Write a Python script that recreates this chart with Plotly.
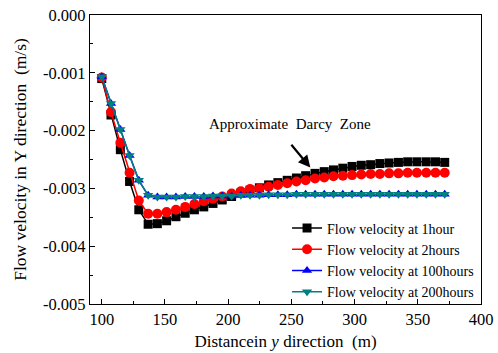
import plotly.graph_objects as go

distance = [100, 107.3, 114.7, 122, 129.3, 136.7, 144, 151.3, 158.7, 166, 173.3, 180.7, 188,
            195.3, 202.7, 210, 217.3, 224.7, 232, 239.3, 246.7, 254, 261.3, 268.7, 276, 283.3,
            290.7, 298, 305.3, 312.7, 320, 327.3, 334.7, 342, 349.3, 356.7, 364, 371.3]

v_1h = [-0.00110, -0.00173, -0.00233, -0.00288, -0.00337, -0.00362, -0.00361, -0.00356, -0.00349,
        -0.00343, -0.00337, -0.00332, -0.00326, -0.00320, -0.00314, -0.00308, -0.00303, -0.00299,
        -0.00294, -0.00290, -0.00286, -0.00282, -0.00278, -0.00274, -0.00271, -0.00268, -0.00265,
        -0.00262, -0.00260, -0.00259, -0.00257, -0.00256, -0.00255, -0.00254, -0.00254, -0.00254,
        -0.00254, -0.00255]

v_2h = [-0.00108, -0.00168, -0.00221, -0.00273, -0.00321, -0.00344, -0.00344, -0.00341, -0.00337,
        -0.00332, -0.00327, -0.00322, -0.00318, -0.00314, -0.00309, -0.00305, -0.00301, -0.00300,
        -0.00297, -0.00294, -0.00291, -0.00288, -0.00286, -0.00283, -0.00281, -0.00279, -0.00278,
        -0.00277, -0.00276, -0.00275, -0.00275, -0.00274, -0.00274, -0.00273, -0.00273, -0.00273,
        -0.00273, -0.00273]

v_100h = [-0.00107, -0.00153, -0.00198, -0.00243, -0.00286, -0.00312, -0.00315, -0.00315, -0.00315,
          -0.00314, -0.00314, -0.00314, -0.00313, -0.00313, -0.00313, -0.00312, -0.00312, -0.00312,
          -0.00311, -0.00311, -0.00311, -0.00310, -0.00310, -0.00310, -0.00310, -0.00310, -0.00310,
          -0.00310, -0.00310, -0.00310, -0.00310, -0.00310, -0.00310, -0.00310, -0.00310, -0.00310,
          -0.00310, -0.00310]

v_200h = [-0.00107, -0.00153, -0.00198, -0.00243, -0.00286, -0.00312, -0.00315, -0.00315, -0.00315,
          -0.00314, -0.00314, -0.00314, -0.00313, -0.00313, -0.00313, -0.00312, -0.00312, -0.00312,
          -0.00311, -0.00311, -0.00311, -0.00310, -0.00310, -0.00310, -0.00310, -0.00310, -0.00310,
          -0.00310, -0.00310, -0.00310, -0.00310, -0.00310, -0.00310, -0.00310, -0.00310, -0.00310,
          -0.00310, -0.00310]

series_names = ["Flow velocity at 1hour", "Flow velocity at 2hours",
                "Flow velocity at 100hours", "Flow velocity at 200hours"]
x_ticks = [100, 150, 200, 250, 300, 350, 400]
y_ticks = [0, -0.001, -0.002, -0.003, -0.004, -0.005]
y_tick_text = ["0.000", "-0.001", "-0.002", "-0.003", "-0.004", "-0.005"]

FONT = "Liberation Serif"

styles = [
    dict(color="#000000", symbol="square", size=9),
    dict(color="#FF0000", symbol="circle", size=10),
    dict(color="#0000FF", symbol="triangle-up", size=9),
    dict(color="#008080", symbol="triangle-down", size=9),
]

fig = go.Figure()
for name, vals, st in zip(series_names, [v_1h, v_2h, v_100h, v_200h], styles):
    fig.add_trace(go.Scatter(
        x=distance, y=vals, name=name, mode="lines+markers",
        line=dict(color=st["color"], width=1.5),
        marker=dict(color=st["color"], symbol=st["symbol"], size=st["size"], line=dict(width=0)),
    ))

fig.add_annotation(
    x=265, y=-0.00264, ax=249, ay=-0.00222, xref="x", yref="y", axref="x", ayref="y",
    text="", showarrow=True, arrowhead=2, arrowsize=1.1, arrowwidth=2.2, arrowcolor="black",
)
fig.add_annotation(
    x=249, y=-0.00189, xref="x", yref="y", text="Approximate&nbsp; Darcy&nbsp; Zone",
    showarrow=False, font=dict(family=FONT, size=15, color="black"),
)

axis_common = dict(
    showline=True, linecolor="black", linewidth=1.2, mirror=True,
    ticks="inside", ticklen=5, tickwidth=1, tickcolor="black",
    showgrid=False, zeroline=False, automargin=False,
    tickfont=dict(family=FONT, size=16.5, color="black"),
)

fig.update_xaxes(
    range=[90.7, 400], tickvals=x_ticks,
    minor=dict(ticks="inside", ticklen=3, tickcolor="black", dtick=25, tick0=100, showgrid=False),
    title=dict(text="Distancein <i>y</i> direction&nbsp; (m)", font=dict(family=FONT, size=17, color="black"), standoff=7),
    **axis_common,
)
fig.update_yaxes(
    range=[-0.005, 0], tickvals=y_ticks, ticktext=y_tick_text,
    minor=dict(ticks="inside", ticklen=3, tickcolor="black", dtick=0.0005, tick0=0, showgrid=False),
    title=dict(text="Flow velocity in Y direction&nbsp; (m/s)", font=dict(family=FONT, size=17.5, color="black"), standoff=11),
    **axis_common,
)

fig.update_layout(
    width=498, height=353,
    margin=dict(l=90, r=17, t=15, b=49, autoexpand=False),
    paper_bgcolor="white", plot_bgcolor="white",
    showlegend=True,
    legend=dict(
        x=0.995, y=-0.012, xanchor="right", yanchor="bottom",
        bgcolor="rgba(0,0,0,0)", borderwidth=0,
        font=dict(family=FONT, size=14, color="black"),
        tracegroupgap=0, itemsizing="trace",
    ),
)

fig.write_html("out.html")
